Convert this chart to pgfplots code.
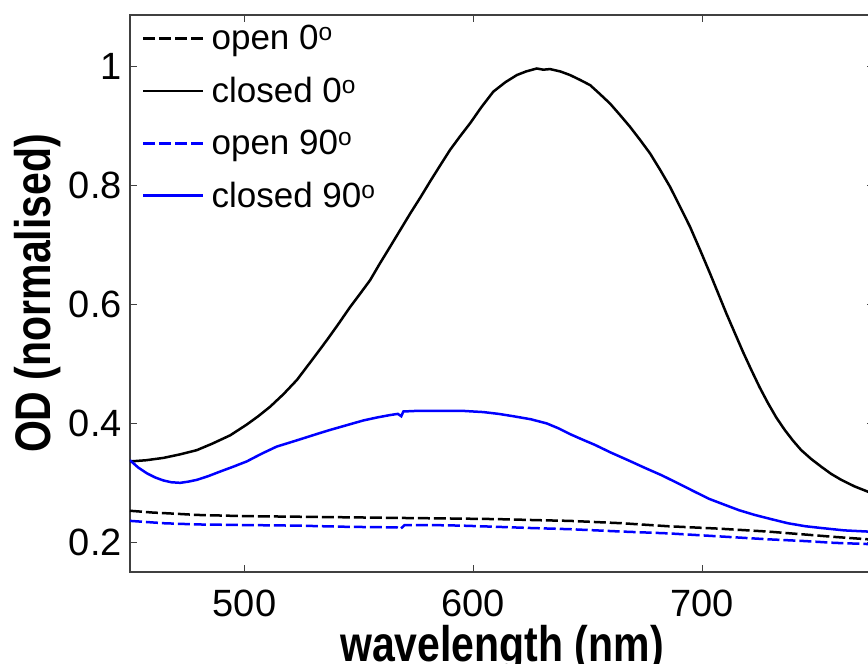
\documentclass[border=0pt]{standalone}
\usepackage{fontspec}
\setmainfont{Liberation Sans}
\newfontfamily\labelfont[FakeStretch=0.82]{Liberation Sans}
\usepackage{pgfplots}
\pgfplotsset{compat=1.18}
\begin{document}
\begin{tikzpicture}
\begin{axis}[
  scale only axis, width=744pt, height=557pt,
  xmin=450, xmax=775, ymin=0.15, ymax=1.087,
  xtick={500,600,700}, ytick={0.2,0.4,0.6,0.8,1},
  major tick length=7pt,
  axis line style={black!75, line width=1.3pt},
  every tick/.style={black!75, line width=1.2pt},
  /pgf/number format/assume math mode=true,
  tick label style={font=\fontsize{38}{40}\selectfont},
  yticklabel style={anchor=east, inner sep=0pt, xshift=-8pt},
  xticklabel style={anchor=north, inner sep=0pt, yshift=-18pt},
  xlabel={wavelength (nm)}, ylabel={OD (normalised)},
  label style={font=\labelfont\bfseries\fontsize{50}{52}\selectfont, inner sep=0pt},
  xlabel style={at={(axis description cs:0.5,-0.16)}, anchor=base},
  ylabel style={at={(axis description cs:-0.1075,0.5)}, anchor=base},
  legend style={draw=none, fill=none, at={(rel axis cs:0.016,0.985)}, anchor=north west,
    font=\fontsize{35}{40}\selectfont, row sep=22pt, inner sep=0pt,
    /tikz/every odd column/.append style={column sep=5pt}},
  legend cell align=left,
  legend image code/.code={\draw[#1] (0pt,0pt) -- (60pt,0pt);},
  every axis plot/.append style={line width=2.5pt},
]
\coordinate (BL) at (rel axis cs:0,0);
\coordinate (TR) at (rel axis cs:1,1);
\addplot[black, dash pattern=on 12pt off 4pt] coordinates {
(450,0.253) (460,0.250) (470,0.248) (479.2,0.246) (500,0.244) (522.9,0.243) (545,0.242) (566.6,0.241) (590,0.240) (610.2,0.239) (630,0.237) (642.2,0.236) (665,0.232) (685,0.227) (707,0.223) (728.7,0.218) (745,0.213) (757.8,0.209) (772.4,0.205) (775,0.204)
};
\addlegendentry{open 0\textsuperscript{o}}
\addplot[black] coordinates {
(450,0.336) (457,0.338) (464.7,0.342) (472,0.348) (479.2,0.355) (486,0.366) (493.8,0.380) (501,0.398) (506,0.412) (511.2,0.428) (517,0.449) (522.9,0.473) (529,0.504) (536,0.540) (541,0.567) (546.2,0.596) (550.5,0.618) (554.9,0.641) (559,0.668) (563.6,0.697) (568,0.725) (572.4,0.753) (577,0.781) (581.1,0.807) (585.5,0.834) (589.8,0.860) (594,0.882) (598.6,0.905) (603.5,0.932) (608.7,0.958) (614,0.974) (619,0.986) (623,0.992) (627.7,0.997) (630.5,0.995) (633.5,0.996) (638,0.992) (642.2,0.986) (646.5,0.978) (651,0.969) (655,0.955) (659.7,0.938) (664,0.919) (668.4,0.899) (672.8,0.877) (677.2,0.854) (681.5,0.827) (685.9,0.798) (690.2,0.765) (694.6,0.731) (699,0.692) (703.4,0.652) (706.9,0.619) (710.5,0.585) (714.2,0.552) (717.8,0.520) (721.4,0.490) (725,0.461) (728.7,0.434) (732.3,0.410) (736,0.389) (739.6,0.371) (743.2,0.355) (747.6,0.340) (752,0.327) (756.3,0.315) (760.7,0.305) (766.5,0.294) (772.4,0.285) (775,0.281)
};
\addlegendentry{closed 0\textsuperscript{o}}
\addplot[blue, dash pattern=on 12pt off 4pt] coordinates {
(450,0.236) (465,0.232) (479.2,0.230) (500,0.229) (522.9,0.228) (545,0.226) (566.6,0.225) (568,0.222) (570,0.229) (581.1,0.229) (595,0.228) (610.2,0.226) (625,0.224) (642.2,0.222) (665,0.218) (685,0.215) (707,0.210) (728.7,0.205) (745,0.202) (757.8,0.199) (772.4,0.197) (775,0.196)
};
\addlegendentry{open 90\textsuperscript{o}}
\addplot[blue] coordinates {
(450,0.338) (453.5,0.326) (457.4,0.316) (461,0.309) (464.6,0.304) (468,0.301) (471.9,0.300) (475.5,0.302) (479.2,0.305) (484,0.311) (489.4,0.319) (495,0.327) (501,0.336) (507.5,0.349) (514.1,0.361) (520,0.368) (525.8,0.375) (531.5,0.382) (537.4,0.389) (544.7,0.397) (552,0.405) (558,0.410) (563.6,0.414) (567,0.416) (568.5,0.412) (569.4,0.420) (575,0.421) (581.1,0.421) (588,0.421) (595.6,0.421) (604.4,0.419) (611,0.416) (617.5,0.412) (625,0.407) (632,0.400) (637,0.392) (642.2,0.382) (647.5,0.373) (653,0.364) (660,0.351) (667.6,0.338) (675,0.325) (682.1,0.313) (689.5,0.299) (696.7,0.285) (703,0.273) (709.8,0.263) (716,0.254) (722.9,0.246) (730,0.239) (737.4,0.232) (745,0.227) (752,0.224) (762,0.220) (772.4,0.218) (775,0.217)
};
\addlegendentry{closed 90\textsuperscript{o}}
\end{axis}
\pgfresetboundingbox
\path[use as bounding box] ([xshift=-130pt,yshift=-92pt]BL) rectangle ([xshift=-6pt,yshift=15pt]TR);
\end{tikzpicture}
\end{document}
